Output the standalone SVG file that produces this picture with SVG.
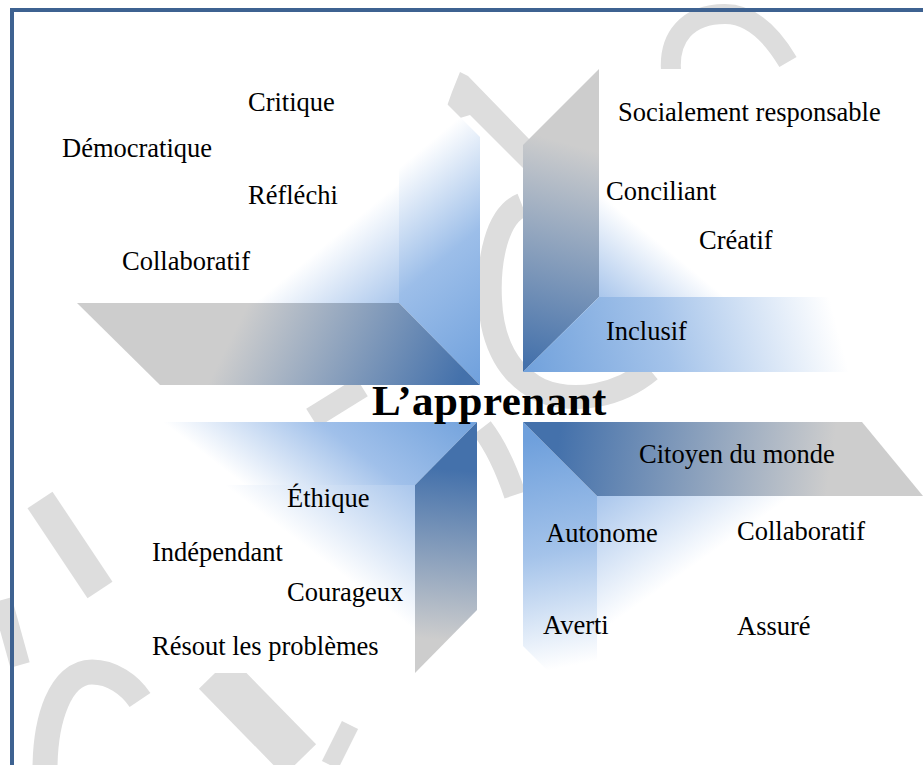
<svg xmlns="http://www.w3.org/2000/svg" width="923" height="765" viewBox="0 0 923 765">
<style>
.lbl{font-family:"Liberation Serif","Times New Roman",serif;font-size:26.5px;fill:#000}
.ttl{font-family:"Liberation Serif","Times New Roman",serif;font-size:43px;font-weight:bold;letter-spacing:0.5px;fill:#000}
.wm{fill:none;stroke:#dddddd}
</style>
<defs>
<linearGradient id="tlFace" gradientUnits="userSpaceOnUse" x1="399" y1="303" x2="340" y2="232"><stop offset="0" stop-color="#A9C6EC"/><stop offset="1" stop-color="#fff"/></linearGradient>
<linearGradient id="tlPanel" gradientUnits="userSpaceOnUse" x1="480" y1="385" x2="340" y2="217"><stop offset="0" stop-color="#6FA0DC"/><stop offset="0.55" stop-color="#9CBEE9"/><stop offset="1" stop-color="#fff"/></linearGradient>
<linearGradient id="tlSlab" gradientUnits="userSpaceOnUse" x1="250" y1="300" x2="450" y2="400"><stop offset="0" stop-color="#CDCDCD"/><stop offset="1" stop-color="#4471AB"/></linearGradient>
<linearGradient id="trPanel" gradientUnits="userSpaceOnUse" x1="590" y1="150" x2="530" y2="365"><stop offset="0" stop-color="#CDCDCD"/><stop offset="1" stop-color="#4471AB"/></linearGradient>
<linearGradient id="trFace" gradientUnits="userSpaceOnUse" x1="599" y1="297" x2="650" y2="235"><stop offset="0" stop-color="#A9C6EC"/><stop offset="1" stop-color="#fff"/></linearGradient>
<linearGradient id="trSlab" gradientUnits="userSpaceOnUse" x1="530" y1="380" x2="830" y2="300"><stop offset="0" stop-color="#72A2DC"/><stop offset="0.45" stop-color="#A4C3EA"/><stop offset="1" stop-color="#fff"/></linearGradient>
<linearGradient id="blSlab" gradientUnits="userSpaceOnUse" x1="477" y1="422" x2="360" y2="574"><stop offset="0" stop-color="#72A2DC"/><stop offset="0.5" stop-color="#A0C0EA"/><stop offset="1" stop-color="#fff"/></linearGradient>
<linearGradient id="blFace" gradientUnits="userSpaceOnUse" x1="415" y1="485" x2="345" y2="577"><stop offset="0" stop-color="#A9C6EC"/><stop offset="1" stop-color="#fff"/></linearGradient>
<linearGradient id="blPanel" gradientUnits="userSpaceOnUse" x1="455" y1="470" x2="440" y2="640"><stop offset="0" stop-color="#4471AB"/><stop offset="1" stop-color="#CDCDCD"/></linearGradient>
<linearGradient id="brSlab" gradientUnits="userSpaceOnUse" x1="560" y1="430" x2="830" y2="470"><stop offset="0" stop-color="#4471AB"/><stop offset="1" stop-color="#CDCDCD"/></linearGradient>
<linearGradient id="brPanel" gradientUnits="userSpaceOnUse" x1="530" y1="440" x2="575" y2="665"><stop offset="0" stop-color="#6FA0DC"/><stop offset="0.5" stop-color="#A4C3EA"/><stop offset="1" stop-color="#fff"/></linearGradient>
<linearGradient id="brFace" gradientUnits="userSpaceOnUse" x1="597" y1="496" x2="662" y2="588"><stop offset="0" stop-color="#A9C6EC"/><stop offset="1" stop-color="#fff"/></linearGradient>
</defs>
<rect x="0" y="0" width="923" height="765" fill="#fff"/>
<g id="watermark">
<path class="wm" stroke-width="20" d="M672,80 C665,35 690,14 725,14 C752,14 772,35 788,62"/>
<polygon fill="#dddddd" points="460,72 468,76 530,140 530,175 470,115 460,118 447,106 452,92"/>
<path class="wm" stroke-width="24" d="M522,205 C497,215 488,260 490,300 C492,345 510,375 540,390 C575,405 620,395 650,370"/>
<path class="wm" stroke-width="22" d="M482,428 C495,445 505,465 515,495"/>
<path class="wm" stroke-width="22" d="M312,418 L362,387"/>
<path class="wm" stroke-width="30" d="M40,500 L100,590"/>
<path class="wm" stroke-width="20" d="M2,600 L20,665"/>
<path class="wm" stroke-width="25" d="M45,770 C45,720 60,672 92,672 C112,672 130,685 140,700"/>
<path class="wm" stroke-width="45" d="M215,673 L300,760"/>
<path class="wm" stroke-width="18" d="M330,765 L350,725"/>
</g>
<rect id="frame" x="12" y="10" width="1000" height="1000" fill="none" stroke="#3E6291" stroke-width="4"/>
<g id="connectors"/>
<g id="quadrant-top-left">
<polygon points="77,56 399,56 399,303 77,303" fill="url(#tlFace)"/>
<polygon points="399,56 480,137 480,385 399,303" fill="url(#tlPanel)"/>
<polygon points="77,303 399,303 480,385 160,385" fill="url(#tlSlab)"/>
</g>
<g id="quadrant-top-right">
<polygon points="599,69 860,69 860,297 599,297" fill="url(#trFace)"/>
<polygon points="523,145 599,69 599,297 523,372" fill="url(#trPanel)"/>
<polygon points="523,372 599,297 880,297 880,372" fill="url(#trSlab)"/>
</g>
<g id="quadrant-bottom-left">
<polygon points="140,485 415,485 415,673 140,673" fill="url(#blFace)"/>
<polygon points="100,422 477,422 415,485 163,485" fill="url(#blSlab)"/>
<polygon points="415,485 477,422 477,610 415,673" fill="url(#blPanel)"/>
</g>
<g id="quadrant-bottom-right">
<polygon points="597,496 860,496 860,720 597,720" fill="url(#brFace)"/>
<polygon points="523,422 597,496 597,720 523,646" fill="url(#brPanel)"/>
<polygon points="523,422 862,422 923,496 597,496" fill="url(#brSlab)"/>
</g>
<g id="center"><text class="ttl" x="372" y="415">L’apprenant</text></g>
<g id="tl-critique"><text class="lbl" x="248" y="111">Critique</text></g>
<g id="tl-democratique"><text class="lbl" x="62" y="157">Démocratique</text></g>
<g id="tl-reflechi"><text class="lbl" x="248" y="204">Réfléchi</text></g>
<g id="tl-collaboratif"><text class="lbl" x="122" y="270">Collaboratif</text></g>
<g id="tr-socialement"><text class="lbl" x="618" y="121">Socialement responsable</text></g>
<g id="tr-conciliant"><text class="lbl" x="606" y="200">Conciliant</text></g>
<g id="tr-creatif"><text class="lbl" x="699" y="249">Créatif</text></g>
<g id="tr-inclusif"><text class="lbl" x="606" y="340">Inclusif</text></g>
<g id="bl-ethique"><text class="lbl" x="287" y="507">Éthique</text></g>
<g id="bl-independant"><text class="lbl" x="152" y="561">Indépendant</text></g>
<g id="bl-courageux"><text class="lbl" x="287" y="601">Courageux</text></g>
<g id="bl-resout"><text class="lbl" x="152" y="655">Résout les problèmes</text></g>
<g id="br-citoyen"><text class="lbl" x="639" y="463">Citoyen du monde</text></g>
<g id="br-autonome"><text class="lbl" x="546" y="542">Autonome</text></g>
<g id="br-collaboratif"><text class="lbl" x="737" y="540">Collaboratif</text></g>
<g id="br-averti"><text class="lbl" x="543" y="634">Averti</text></g>
<g id="br-assure"><text class="lbl" x="737" y="635">Assuré</text></g>
</svg>
